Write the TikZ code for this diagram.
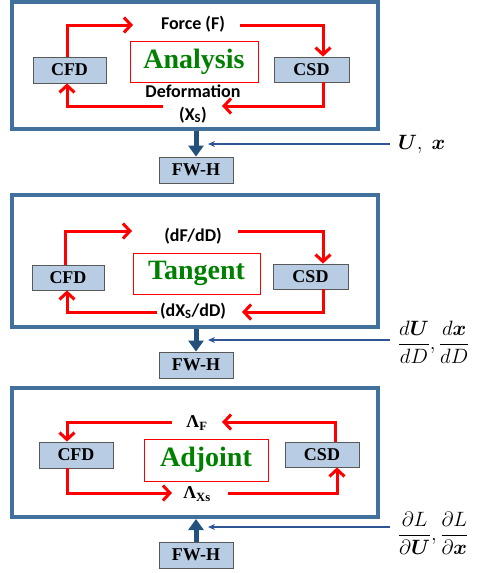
\documentclass[tikz,border=0pt]{standalone}
\usepackage{fontspec}
\usepackage{amsmath}
\setmainfont{Liberation Serif}
\newfontfamily\calib{Carlito}
\usetikzlibrary{arrows.meta}
\definecolor{frameblue}{RGB}{65,113,156}
\definecolor{boxblue}{RGB}{184,204,228}
\definecolor{tagtext}{RGB}{0,128,0}
\definecolor{linkblue}{RGB}{47,85,151}
\definecolor{feedblue}{RGB}{36,80,124}
\tikzset{
  panel/.style={draw=frameblue, line width=4pt, minimum width=366pt, inner sep=0pt},
  block/.style={draw=black!65, fill=boxblue, line width=0.8pt, minimum width=74pt,
    minimum height=26pt, inner sep=0pt, font=\fontsize{18}{18}\selectfont\bfseries},
  tagbox/.style={draw=red, line width=0.6pt, text=tagtext, minimum height=41pt,
    inner sep=0pt, font=\fontsize{28}{28}\selectfont\bfseries},
  lbl/.style={inner sep=1pt, font=\calib\fontsize{18}{18}\selectfont\bfseries},
  lam/.style={inner sep=1pt, font=\fontsize{18}{18}\selectfont\bfseries},
  sens/.style={anchor=west, inner xsep=8pt, outer sep=0pt, font=\fontsize{22}{26}\selectfont},
  flow/.style={red, line width=3pt, -{Straight Barb[length=7pt,width=15pt]}},
  feed/.style={feedblue, line width=5pt, -{Triangle[length=11pt,width=15pt]}},
  link/.style={linkblue, line width=1.4pt, -{Stealth[length=7pt,width=6pt]}}
}
\begin{document}
\begin{tikzpicture}[x=1pt, y=-1pt]
  \useasboundingbox (0,0) rectangle (480,573);

  % analysis
  \node[panel, minimum height=127pt] (frameA) at (195,65.5) {};
  \node[block, minimum width=73pt] (cfdA) at (69.5,70) {CFD};
  \node[block, minimum width=75pt, minimum height=25pt] (csdA) at (311.5,69.5) {CSD};
  \node[tagbox, minimum width=128pt] (tagA) at (194,61.5) {Analysis};
  \node[lbl] (forceA) at (193,24) {Force (F)};
  \node[lbl] (deformA) at (193,91) {Deformation};
  \node[lbl] (xsA) at (193,115) {(X\textsubscript{S})};
  \node[block] (fwhA) at (196,170) {FW-H};
  \coordinate (topinA) at (133,25);
  \coordinate (topoutA) at (240,25);
  \coordinate (botinA) at (222,106);
  \coordinate (botoutA) at (163,106);
  \draw[flow] ([xshift=-2.5pt]cfdA.north) |- (topinA);
  \draw[flow] (topoutA) -| ([xshift=11.5pt]csdA.north);
  \draw[flow] ([xshift=11.5pt]csdA.south) |- (botinA);
  \draw[flow] (botoutA) -| ([xshift=-2.5pt]cfdA.south);
  \draw[feed] (frameA.south -| fwhA.north) -- (fwhA.north);
  \node[sens] (uxA) at (390,144) {$\boldsymbol{U},\ \boldsymbol{x}$};
  \coordinate (tipA) at (208,144);
  \draw[link] (uxA.west) -- (tipA);

  % tangent
  \node[panel, minimum height=132pt] (frameB) at (195,261) {};
  \node[block, minimum width=72pt, minimum height=25pt] (cfdB) at (68,277.5) {CFD};
  \node[block, minimum width=75pt, minimum height=25pt] (csdB) at (310.5,276.5) {CSD};
  \node[tagbox, minimum width=127pt] (tagB) at (196.5,273.5) {Tangent};
  \node[lbl] (dfB) at (193,236) {(dF/dD)};
  \node[lbl] (dxsB) at (193,311) {(dX\textsubscript{S}/dD)};
  \node[block] (fwhB) at (196,365) {FW-H};
  \coordinate (topinB) at (132,231);
  \coordinate (topoutB) at (238,231);
  \coordinate (botinB) at (242,312);
  \coordinate (botoutB) at (157,312);
  \draw[flow] ([xshift=-3pt]cfdB.north) |- (topinB);
  \draw[flow] (topoutB) -| ([xshift=12.5pt]csdB.north);
  \draw[flow] ([xshift=12.5pt]csdB.south) |- (botinB);
  \draw[flow] (botoutB) -| ([xshift=-1pt]cfdB.south);
  \draw[feed] (frameB.south -| fwhB.north) -- (fwhB.north);
  \node[sens] (uxB) at (390,342) {$\dfrac{d\boldsymbol{U}}{dD},\dfrac{d\boldsymbol{x}}{dD}$};
  \coordinate (tipB) at (208,340);
  \draw[link] (uxB.west |- tipB) -- (tipB);

  % adjoint
  \node[panel, minimum height=129pt] (frameC) at (195,452.5) {};
  \node[block] (cfdC) at (76,455) {CFD};
  \node[block, minimum height=25pt] (csdC) at (322,454.5) {CSD};
  \node[tagbox, minimum width=124pt, minimum height=42pt] (tagC) at (206,460) {Adjoint};
  \node[lam] (lfC) at (197,423) {Λ\textsubscript{F}};
  \node[lam] (lxC) at (197,494) {Λ\textsubscript{Xs}};
  \node[block] (fwhC) at (196,555) {FW-H};
  \coordinate (topinC) at (222,422);
  \coordinate (topoutC) at (172,422);
  \coordinate (botinC) at (172,493);
  \coordinate (botoutC) at (228,493);
  \draw[flow] ([xshift=13pt]csdC.north) |- (topinC);
  \draw[flow] (topoutC) -| ([xshift=-9pt]cfdC.north);
  \draw[flow] ([xshift=-9pt]cfdC.south) |- (botinC);
  \draw[flow] (botoutC) -| ([xshift=15pt]csdC.south);
  \draw[feed] (fwhC.north) -- (frameC.south -| fwhC.north);
  \node[sens] (dlC) at (390,533) {$\dfrac{\partial L}{\partial\boldsymbol{U}},\dfrac{\partial L}{\partial\boldsymbol{x}}$};
  \coordinate (tipC) at (208,527);
  \draw[link] (dlC.west |- tipC) -- (tipC);
\end{tikzpicture}
\end{document}
